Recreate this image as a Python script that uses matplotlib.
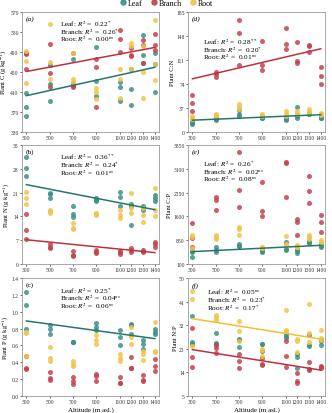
import matplotlib
matplotlib.use("Agg")
import matplotlib.pyplot as plt
from matplotlib.lines import Line2D
import numpy as np

plt.rcParams['font.family'] = ['Liberation Serif', 'DejaVu Serif']
plt.rcParams['mathtext.fontset'] = 'stix'

altitudes = [300, 500, 700, 900, 1100, 1200, 1300, 1400]

# Plant C (g kg-1)
c_leaf = [[408, 380, 362], [464, 427, 393], [476, 427, 423], [501, 432, 403],
          [430, 420, 393], [457, 417, 384], [524, 485, 468], [488, 466, 411]]
c_branch = [[489, 486, 457], [507, 449, 420], [488, 420, 425], [476, 461, 380],
            [534, 517, 490], [498, 483, 485], [515, 505, 468], [527, 505, 495]]
c_root = [[492, 472, 428], [547, 471, 436], [489, 437, 430], [418, 411, 396],
          [456, 437, 398], [508, 502, 456], [502, 451, 398], [554, 466, 434]]

# Plant C:N
cn_leaf = [[13, 14, 15], [22, 20, 18], [34, 28, 24], [23, 22, 21],
           [22, 20, 19], [39, 25, 22], [30, 28, 27], [24, 22, 21]]
cn_branch = [[57, 45, 33], [92, 90, 85], [173, 153, 104], [141, 104, 95],
             [160, 136, 128], [138, 110, 107], [134, 132, 123], [100, 86, 74]]
cn_root = [[25, 22, 20], [28, 26, 24], [43, 39, 35], [28, 26, 25],
           [33, 28, 25], [33, 30, 28], [35, 32, 29], [30, 28, 26]]

# Plant N (g kg-1)
n_leaf = [[31.4, 28.1, 25.8], [20.9, 20.6, 19.5], [17.0, 14.7, 13.7], [19.3, 18.9, 18.5],
          [21.1, 19.6, 17.0], [17.6, 17.0, 11.5], [17.0, 16.4, 16.0], [20.3, 19.3, 18.5]]
n_branch = [[14.7, 10.1, 7.5], [5.9, 5.1, 4.6], [3.9, 2.6, 2.5], [4.2, 3.6, 3.2],
            [3.9, 3.4, 2.9], [4.6, 4.2, 3.6], [4.2, 3.8, 3.6], [6.6, 5.9, 4.9]]
n_root = [[21.3, 19.3, 17.6], [16.0, 15.5, 14.9], [12.0, 10.7, 10.2], [15.0, 14.7, 14.4],
          [16.0, 14.4, 13.4], [20.9, 16.4, 15.0], [16.6, 14.4, 12.3], [22.3, 16.0, 14.0]]

# Plant C:P
cp_leaf = [[500, 480, 332], [627, 553, 470], [732, 680, 658], [574, 520, 470],
           [784, 574, 553], [560, 522, 448], [837, 800, 763], [732, 658, 640]]
cp_branch = [[1382, 910, 627], [2200, 2128, 1813], [3640, 2432, 1887], [2695, 1782, 1603],
             [3320, 3290, 2200], [1519, 1435, 1015], [2863, 2410, 2023], [1645, 1435, 1120]]
cp_root = [[1015, 942, 595], [1015, 942, 900], [1278, 1204, 1015], [650, 620, 600],
           [994, 732, 700], [700, 640, 627], [1015, 942, 900], [868, 805, 780]]

# Plant P (g kg-1)
p_leaf = [[1.23, 1.08, 0.79], [0.84, 0.80, 0.73], [0.645, 0.64, 0.635], [0.87, 0.82, 0.78],
          [0.78, 0.70, 0.61], [0.85, 0.84, 0.74], [0.66, 0.62, 0.56], [0.79, 0.76, 0.74]]
p_branch = [[0.47, 0.33, 0.32], [0.28, 0.21, 0.19], [0.22, 0.18, 0.14], [0.26, 0.24, 0.18],
            [0.22, 0.16, 0.15], [0.46, 0.33, 0.33], [0.25, 0.19, 0.18], [0.44, 0.36, 0.30]]
p_root = [[0.76, 0.75, 0.48], [0.58, 0.45, 0.42], [0.41, 0.38, 0.36], [0.72, 0.67, 0.62],
          [0.50, 0.45, 0.42], [0.82, 0.70, 0.62], [0.53, 0.50, 0.43], [0.88, 0.53, 0.52]]

# Plant N:P
np_leaf = [[35.6, 25.5, 24.7], [29.0, 25.1, 24.8], [26.8, 26.3, 23.5], [25.0, 24.8, 22.3],
           [28.6, 27.7, 27.0], [20.9, 20.0, 15.8], [28.3, 24.5, 23.9], [26.4, 26.0, 24.5]]
np_branch = [[31.1, 19.8, 15.9], [24.5, 23.2, 21.3], [20.9, 18.4, 15.8], [19.4, 17.1, 16.8],
             [25.8, 20.4, 16.2], [13.9, 10.7, 9.8], [18.1, 15.3, 15.0], [16.6, 16.2, 15.6]]
np_root = [[45.2, 42.1, 23.9], [36.0, 35.3, 34.0], [33.7, 29.6, 26.0], [22.8, 22.6, 20.4],
           [37.9, 30.2, 29.6], [26.7, 25.8, 21.9], [40.0, 29.0, 25.5], [30.2, 27.0, 26.5]]

organs = ['Leaf', 'Branch', 'Root']
colors = {'Leaf': '#3d8f87', 'Branch': '#c2434f', 'Root': '#f2c34a'}
line_colors = {'Leaf': '#23776d', 'Branch': '#c0303c', 'Root': '#f0c030'}

panels = [
    dict(label='(a)', ylabel='Plant C (g kg$^{-1}$)', data=(c_leaf, c_branch, c_root),
         yticks=[330, 370, 410, 450, 490, 530, 570], fits=['Leaf', 'Branch'],
         r2=['0.22$^{*}$', '0.26$^{*}$', '0.00$^{ns}$'], txt=(0.28, 0.91), pos=(0, 0)),
    dict(label='(d)', ylabel='Plant C:N', data=(cn_leaf, cn_branch, cn_root),
         yticks=[0, 37, 74, 111, 148, 185], fits=['Leaf', 'Branch'],
         r2=['0.28$^{**}$', '0.20$^{*}$', '0.01$^{ns}$'], txt=(0.11, 0.76), pos=(0, 1)),
    dict(label='(b)', ylabel='Plant N (g kg$^{-1}$)', data=(n_leaf, n_branch, n_root),
         yticks=[0, 7, 14, 21, 28, 35], fits=['Leaf', 'Branch'],
         r2=['0.36$^{**}$', '0.24$^{*}$', '0.01$^{ns}$'], txt=(0.28, 0.905), pos=(1, 0)),
    dict(label='(e)', ylabel='Plant C:P', data=(cp_leaf, cp_branch, cp_root),
         yticks=[100, 850, 1600, 2350, 3100, 3850], fits=['Leaf'],
         r2=['0.26$^{*}$', '0.02$^{ns}$', '0.08$^{ns}$'], txt=(0.11, 0.85), pos=(1, 1)),
    dict(label='(c)', ylabel='Plant P (g kg$^{-1}$)', data=(p_leaf, p_branch, p_root),
         yticks=[0.0, 0.2, 0.4, 0.6, 0.8, 1.0, 1.2, 1.4], fits=['Leaf'],
         r2=['0.25$^{*}$', '0.04$^{ns}$', '0.06$^{ns}$'], txt=(0.28, 0.90), pos=(2, 0)),
    dict(label='(f)', ylabel='Plant N:P', data=(np_leaf, np_branch, np_root),
         yticks=[5, 14, 23, 32, 41, 50], fits=['Branch', 'Root'],
         r2=['0.05$^{ns}$', '0.23$^{*}$', '0.17$^{*}$'], txt=(0.14, 0.885), pos=(2, 1)),
]

W, H = 332, 414
fig = plt.figure(figsize=(W / 100, H / 100), dpi=100)
lefts = [22, 188]
rows = [(13, 133), (146, 265), (279, 397)]
axw = 137

for p in panels:
    r, c = p['pos']
    top, bot = rows[r]
    ax = fig.add_axes([lefts[c] / W, 1 - bot / H, axw / W, (bot - top) / H])
    for organ, vals in zip(organs, p['data']):
        xs = np.repeat(altitudes, 3)
        ys = np.array(vals).ravel()
        ax.scatter(xs, ys, s=13, color=colors[organ], alpha=0.85, linewidths=0, zorder=2)
    for organ, vals in zip(organs, p['data']):
        if organ in p['fits']:
            xs = np.repeat(altitudes, 3)
            ys = np.array(vals).ravel()
            k, b = np.polyfit(xs, ys, 1)
            xx = np.array([300, 1400])
            ax.plot(xx, k * xx + b, color=line_colors[organ], lw=1.1, zorder=3)
    yt = p['yticks']
    ax.set_ylim(yt[0], yt[-1])
    ax.set_yticks(yt)
    if isinstance(yt[0], float):
        ax.set_yticklabels([f'{v:.1f}' for v in yt])
    ax.set_xlim(262, 1436)
    ax.set_xticks(altitudes)
    ax.tick_params(labelsize=4.0, length=1.2, width=0.5, pad=1.2, colors='#333333')
    for s in ax.spines.values():
        s.set_color('#9a9a9a')
        s.set_linewidth(0.6)
    ax.set_ylabel(p['ylabel'], fontsize=4.8, labelpad=0.6)
    if r == 2:
        ax.set_xlabel('Altitude (m asl.)', fontsize=5.0, labelpad=1.5)
    ital = p['label'] in ('(a)', '(d)', '(e)', '(f)')
    ax.text(0.025, 0.97, p['label'], transform=ax.transAxes, fontsize=5.3,
            va='top', ha='left', style='italic' if ital else 'normal')
    tx, ty = p['txt']
    for i, (organ, rv) in enumerate(zip(organs, p['r2'])):
        ax.text(tx, ty - i * 0.066, f'{organ}: $R^2$ =  {rv}', transform=ax.transAxes,
                fontsize=5.2, va='center', ha='left')

handles = [Line2D([], [], marker='o', ls='', color=colors[o], markersize=3.6, alpha=0.9)
           for o in organs]
fig.legend(handles, organs, loc='upper center', bbox_to_anchor=(0.5, 1.01), ncol=3,
           frameon=False, fontsize=5.8, handletextpad=0.1, columnspacing=0.9,
           handlelength=1.0, borderaxespad=0.1)

fig.savefig('out.png', dpi=100)
